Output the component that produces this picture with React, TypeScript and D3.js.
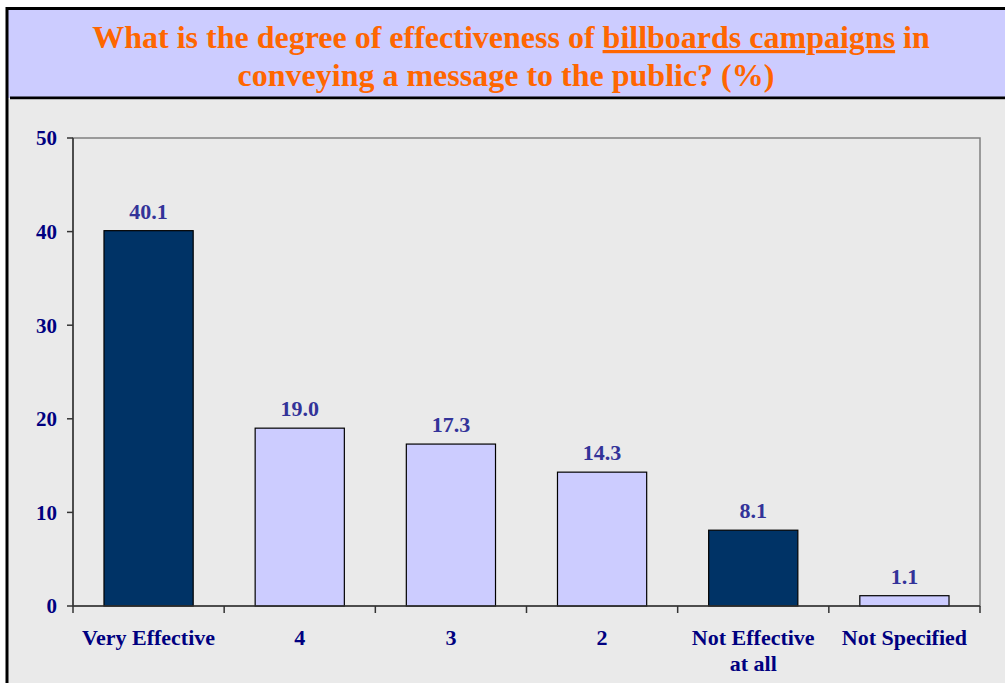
import * as d3 from "d3";
import { useEffect } from "react";

const categories = ["Very Effective", "4", "3", "2", "Not Effective\nat all", "Not Specified"];
const values = [40.1, 19.0, 17.3, 14.3, 8.1, 1.1];
const highlighted = [true, false, false, false, true, false];
const yTicks = [0, 10, 20, 30, 40, 50];

const W = 1005;
const H = 683;
const plot = { left: 73, right: 980, top: 138, bottom: 606 };

const App = () => {
  useEffect(() => {
    document.body.style.margin = "0";
  }, []);

  const x = d3
    .scaleBand<string>()
    .domain(categories)
    .range([plot.left, plot.right])
    .paddingInner(0.41)
    .paddingOuter(0.205);
  const y = d3.scaleLinear().domain([0, 50]).range([plot.bottom, plot.top]);

  // category tick positions sit on the band boundaries
  const bounds = d3.range(categories.length + 1).map((i) => plot.left + i * (plot.right - plot.left) / categories.length);

  const font = "'Liberation Serif', 'Times New Roman', serif";

  return (
    <svg width={W} height={H} style={{ display: "block", fontFamily: font }}>
      <rect x={0} y={0} width={W} height={H} fill="#ffffff" />
      {/* title box */}
      <rect x={7} y={8} width={W - 7} height={90} fill="#ccccff" />
      <line x1={6} x2={W} y1={8.5} y2={8.5} stroke="#000" strokeWidth={3} />
      <line x1={10} x2={W} y1={98} y2={98} stroke="#000" strokeWidth={3} />
      {/* chart area */}
      <rect x={7} y={99.5} width={W - 7} height={H - 99.5} fill="#eaeaea" />
      <line x1={7} x2={7} y1={7} y2={H} stroke="#000" strokeWidth={3} />

      <g fill="#ff6600" fontWeight="bold" fontSize={32} textAnchor="middle">
        <text x={511} y={48}>
          What is the degree of effectiveness of{" "}
          <tspan textDecoration="underline">billboards campaigns</tspan> in
        </text>
        <text x={506} y={86}>conveying a message to the public? (%)</text>
      </g>

      {/* plot frame */}
      <rect
        x={plot.left}
        y={plot.top}
        width={plot.right - plot.left}
        height={plot.bottom - plot.top}
        fill="none"
        stroke="#808080"
        strokeWidth={1.5}
      />

      {categories.map((c, i) => (
        <rect
          key={c}
          x={x(c)}
          y={y(values[i])}
          width={x.bandwidth()}
          height={y(0) - y(values[i])}
          fill={highlighted[i] ? "#003366" : "#ccccff"}
          stroke="#000"
          strokeWidth={1.2}
        />
      ))}

      {/* axes */}
      <line x1={plot.left} x2={plot.left} y1={plot.top} y2={plot.bottom} stroke="#333" strokeWidth={1.5} />
      <line x1={plot.left} x2={plot.right} y1={plot.bottom} y2={plot.bottom} stroke="#333" strokeWidth={1.5} />
      {yTicks.map((t) => (
        <g key={t}>
          <line x1={plot.left - 6} x2={plot.left} y1={y(t)} y2={y(t)} stroke="#333" strokeWidth={1.5} />
          <text
            x={57}
            y={y(t)}
            dy="0.35em"
            textAnchor="end"
            fontWeight="bold"
            fontSize={21}
            fill="#000080"
          >
            {t}
          </text>
        </g>
      ))}
      {bounds.map((b, i) => (
        <line key={i} x1={b} x2={b} y1={plot.bottom} y2={plot.bottom + 7} stroke="#333" strokeWidth={1.5} />
      ))}

      {categories.map((c, i) => {
        const cx = (x(c) ?? 0) + x.bandwidth() / 2;
        return (
          <g key={c}>
            <text
              x={cx}
              y={y(values[i]) - 12}
              textAnchor="middle"
              fontWeight="bold"
              fontSize={22}
              fill="#333399"
            >
              {values[i].toFixed(1)}
            </text>
            <text textAnchor="middle" fontWeight="bold" fontSize={22} fill="#000080">
              {c.split("\n").map((line, j) => (
                <tspan key={j} x={cx} y={645 + j * 26}>
                  {line}
                </tspan>
              ))}
            </text>
          </g>
        );
      })}
    </svg>
  );
};

export default App;
